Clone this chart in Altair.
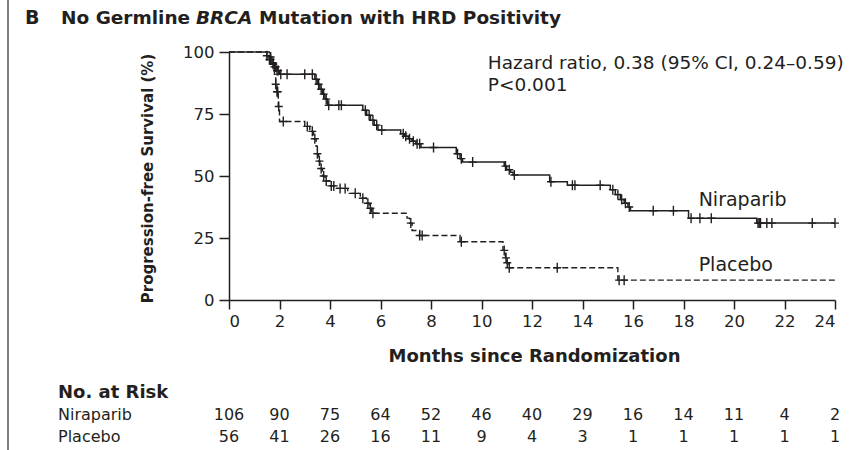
import altair as alt
import pandas as pd

# Kaplan-Meier step points (months, % progression-free)
nir_t = [0, 1.5, 1.6, 1.7, 1.8, 1.9, 2.0, 3.4, 3.5, 3.6, 3.7, 3.8, 3.9, 5.3, 5.45, 5.6, 5.75, 5.9,
         6.8, 6.95, 7.1, 7.25, 7.4, 7.6, 9.0, 9.15, 9.25, 10.9, 11.0, 11.15, 11.25, 12.7, 13.4,
         15.1, 15.3, 15.5, 15.65, 15.8, 15.9, 18.2, 20.9, 24]
nir_s = [100, 98.5, 97, 95.5, 94, 92.5, 91, 89, 87, 85, 83, 81, 78.5, 76.5, 74.5, 72.5, 70.5, 68.5,
         67, 66, 65, 64, 63, 61.5, 59, 57, 55.6, 54, 52.5, 51.5, 50.4, 47.7, 46.3,
         44.5, 42.5, 40.5, 39, 37.5, 36, 33, 31, 31]
pla_t = [0, 1.6, 1.7, 1.8, 1.85, 1.9, 1.95, 2.0, 3.0, 3.2, 3.35, 3.45, 3.5, 3.55, 3.6, 3.7, 3.8,
         4.0, 4.2, 4.7, 5.2, 5.45, 5.55, 5.65, 7.05, 7.15, 7.25, 7.55, 9.15, 10.85, 10.95, 11.0,
         11.05, 15.4, 24]
pla_s = [100, 98, 95, 91, 87, 84, 78, 72, 70, 68, 65, 62, 59, 56, 53, 50, 48,
         46, 45, 43, 41, 39, 37, 35, 33, 31, 28, 26, 23.5, 20, 17, 15,
         13, 8, 8]

# Censoring times (months)
nir_cens = [1.5, 1.6, 1.65, 1.75, 1.8, 1.85, 1.9, 1.95, 2.05, 2.3, 3.0, 3.3, 3.45, 3.55, 3.65, 3.75,
            3.85, 3.95, 4.35, 4.45, 5.4, 5.55, 5.7, 5.85, 6.05, 6.9, 7.0, 7.15, 7.3, 7.45, 7.55, 8.1,
            9.05, 9.2, 9.65, 10.95, 11.1, 11.3, 12.75, 13.6, 13.7, 14.7, 15.2, 15.4, 15.55, 15.7,
            15.85, 16.8, 17.6, 18.3, 18.65, 19.1, 20.95, 21.0, 21.05, 21.3, 21.5, 23.1, 24.0]
pla_cens = [1.65, 1.75, 1.85, 1.9, 1.93, 1.97, 2.15, 3.1, 3.3, 3.4, 3.5, 3.58, 3.65, 3.75, 3.85,
            4.05, 4.15, 4.4, 4.6, 5.0, 5.3, 5.5, 5.6, 5.7, 7.2, 7.55, 7.65, 9.2, 10.9, 10.97, 11.02,
            11.1, 13.0, 15.45, 15.65]

# Number at risk
risk_months = [0, 2, 4, 6, 8, 10, 12, 14, 16, 18, 20, 22, 24]
nir_risk = [106, 90, 75, 64, 52, 46, 40, 29, 16, 14, 11, 4, 2]
pla_risk = [56, 41, 26, 16, 11, 9, 4, 3, 1, 1, 1, 1, 1]

INK = "#231f20"
FONT = "DejaVu Sans"


def km_value(ts, ss, t):
    """Survival of a step curve at time t (value of the last step at or before t)."""
    v = ss[0]
    for ti, si in zip(ts, ss):
        if ti <= t:
            v = si
    return v


curves = pd.DataFrame(
    [{"month": t, "pfs": s, "arm": "Niraparib"} for t, s in zip(nir_t, nir_s)]
    + [{"month": t, "pfs": s, "arm": "Placebo"} for t, s in zip(pla_t, pla_s)]
)
cens = pd.DataFrame(
    [{"month": t, "pfs": km_value(nir_t, nir_s, t), "arm": "Niraparib"} for t in nir_cens]
    + [{"month": t, "pfs": km_value(pla_t, pla_s, t), "arm": "Placebo"} for t in pla_cens]
)
risk = pd.DataFrame(
    [{"month": m, "n": str(n), "row": "Niraparib"} for m, n in zip(risk_months, nir_risk)]
    + [{"month": m, "n": str(n), "row": "Placebo"} for m, n in zip(risk_months, pla_risk)]
)

xs = alt.Scale(domain=[0, 24], nice=False)
ys = alt.Scale(domain=[0, 100], nice=False)

x_axis = alt.Axis(
    values=list(range(0, 25, 2)), title="Months since Randomization",
    tickSize=9, labelPadding=4, labelFontSize=16.5, titleFontSize=18, titleFontWeight="bold",
    titleX=305, titleY=56, titleBaseline="middle",
    labelFont=FONT, titleFont=FONT,
)
y_axis = alt.Axis(
    values=[0, 25, 50, 75, 100], title="Progression-free Survival (%)",
    tickSize=10, labelPadding=5, labelFontSize=16.5, titleFontSize=15, titleFontWeight="bold",
    titleAngle=-90, titleX=-82, titleY=126, titleAlign="center", titleBaseline="middle",
    labelFont=FONT, titleFont=FONT,
)

nir_line = alt.Chart(curves).transform_filter(alt.datum.arm == "Niraparib").mark_line(
    interpolate="step-after", color=INK, strokeWidth=1.5
).encode(x=alt.X("month:Q", scale=xs, axis=x_axis), y=alt.Y("pfs:Q", scale=ys, axis=y_axis))

pla_line = alt.Chart(curves).transform_filter(alt.datum.arm == "Placebo").mark_line(
    interpolate="step-after", color=INK, strokeWidth=1.4, strokeDash=[6, 3]
).encode(x=alt.X("month:Q", scale=xs), y=alt.Y("pfs:Q", scale=ys))

cens_marks = alt.Chart(cens).mark_point(
    shape="M0,-1L0,1M-0.8,0L0.8,0", filled=False, color=INK, strokeWidth=1.4, size=100, opacity=1
).encode(x=alt.X("month:Q", scale=xs), y=alt.Y("pfs:Q", scale=ys))

arm_labels = alt.Chart(pd.DataFrame({
    "month": [18.6, 18.6], "pfs": [40.3, 14.2], "txt": ["Niraparib", "Placebo"]
})).mark_text(align="left", baseline="middle", font=FONT, fontSize=19, color=INK).encode(
    x=alt.X("month:Q", scale=xs), y=alt.Y("pfs:Q", scale=ys), text="txt:N"
)

hr_text = alt.Chart(pd.DataFrame({
    "month": [10.25, 10.25], "pfs": [95.5, 86.5],
    "txt": ["Hazard ratio, 0.38 (95% CI, 0.24\u20130.59)", "P<0.001"],
})).mark_text(align="left", baseline="middle", font=FONT, fontSize=18.5, color=INK).encode(
    x=alt.X("month:Q", scale=xs), y=alt.Y("pfs:Q", scale=ys), text="txt:N"
)


def label(text, x, y, size=16, weight="normal", style="normal"):
    return alt.Chart(pd.DataFrame({"t": [text]})).mark_text(
        align="left", baseline="middle", font=FONT, fontSize=size, fontWeight=weight,
        fontStyle=style, color=INK,
    ).encode(x=alt.value(x), y=alt.value(y), text="t:N")


# Panel heading (plot origin is at 229, 52 in page pixels)
heading = (
    label("B", 25 - 229, 18 - 52, 19, "bold")
    + label("No Germline", 61 - 229, 18 - 52, 18.5, "bold")
    + label("BRCA", 196 - 229, 18 - 52, 18.5, "bold", "italic")
    + label("Mutation with HRD Positivity", 259 - 229, 18 - 52, 18.5, "bold")
)

risk_head = (
    label("No. at Risk", 58 - 229, 393 - 52, 18, "bold")
    + label("Niraparib", 58 - 229, 415 - 52, 16)
    + label("Placebo", 58 - 229, 437 - 52, 16)
)

risk_nir = alt.Chart(risk).transform_filter(alt.datum.row == "Niraparib").mark_text(
    align="center", baseline="middle", font=FONT, fontSize=16, color=INK
).encode(x=alt.X("month:Q", scale=xs), y=alt.value(415 - 52), text="n:N")
risk_pla = alt.Chart(risk).transform_filter(alt.datum.row == "Placebo").mark_text(
    align="center", baseline="middle", font=FONT, fontSize=16, color=INK
).encode(x=alt.X("month:Q", scale=xs), y=alt.value(437 - 52), text="n:N")

border = alt.Chart(pd.DataFrame({"a": [0]})).mark_rule(color="#555555", strokeWidth=1.5).encode(
    x=alt.value(8 - 229), y=alt.value(0 - 52), y2=alt.value(450 - 52)
)

chart = alt.layer(
    nir_line, pla_line, cens_marks, arm_labels, hr_text, heading, risk_head, risk_nir, risk_pla, border
).properties(
    width=606, height=248,
    background="white",
    autosize=alt.AutoSizeParams(type="none"),
    padding={"left": 229, "top": 52, "right": 29, "bottom": 150},
).configure_view(stroke=None).configure_axis(
    grid=False, domainColor=INK, domainWidth=1.5, tickColor=INK, tickWidth=1.5,
    labelColor=INK, titleColor=INK, labelFont=FONT, titleFont=FONT,
)

chart.save("out.html", embed_options={"renderer": "svg", "actions": False})
